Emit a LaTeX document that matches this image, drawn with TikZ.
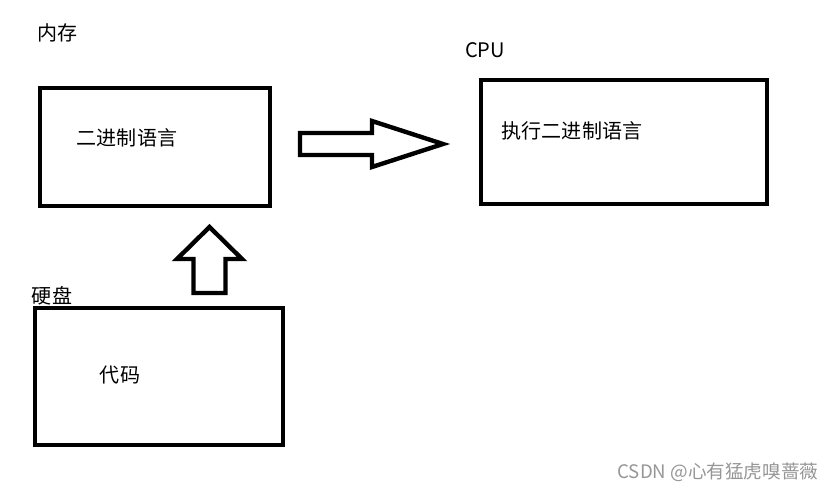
\documentclass[tikz,border=0pt]{standalone}
\usepackage{fontspec}
\setmainfont{Noto Sans CJK SC}
\usepackage{tikz}
\usetikzlibrary{positioning}
\definecolor{mark}{RGB}{150,150,150}

\begin{document}
\begin{tikzpicture}[x=0.02cm, y=-0.02cm,
  box/.style={draw, line width=2.5pt, inner sep=0pt},
  blockarrow/.style={draw, line width=2.5pt, line join=miter},
  lbl/.style={font=\fontsize{11.4pt}{13pt}\selectfont, inner sep=0pt}]
\useasboundingbox (0,0) rectangle (839,494);
%% ---- memory ----
\node[lbl] (memtitle) at (58,33) {内存};
\node[box, minimum width=4.6cm, minimum height=2.36cm] (mem) at (155,147) {};
\node[lbl] (memtext) at (127,138) {二进制语言};
%% ---- cpu ----
\node[lbl] (cputitle) at (485,50) {CPU};
\node[box, minimum width=5.72cm, minimum height=2.48cm] (cpu) at (624,142) {};
\node[lbl] (cputext) at (572,131) {执行二进制语言};
%% ---- disk ----
\node[lbl] (disktitle) at (52,296) {硬盘};
\node[box, minimum width=4.96cm, minimum height=2.74cm] (disk) at (159,376.5) {};
\node[lbl] (disktext) at (120,375) {代码};
%% ---- block arrows ----
\draw[blockarrow] (300,133) -- (372,133) -- (372,121) -- (443,144)
  -- (372,167) -- (372,155) -- (300,155) -- cycle;
\draw[blockarrow] (193.5,293) -- (193.5,259) -- (177,259) -- (209.5,227)
  -- (242,259) -- (225.5,259) -- (225.5,293) -- cycle;
%% ---- watermark ----
\node[font=\fontsize{10.6pt}{12pt}\selectfont, text=mark, inner sep=0pt]
  (wm) at (718,472) {CSDN @心有猛虎嗅蔷薇};
\end{tikzpicture}
\end{document}
